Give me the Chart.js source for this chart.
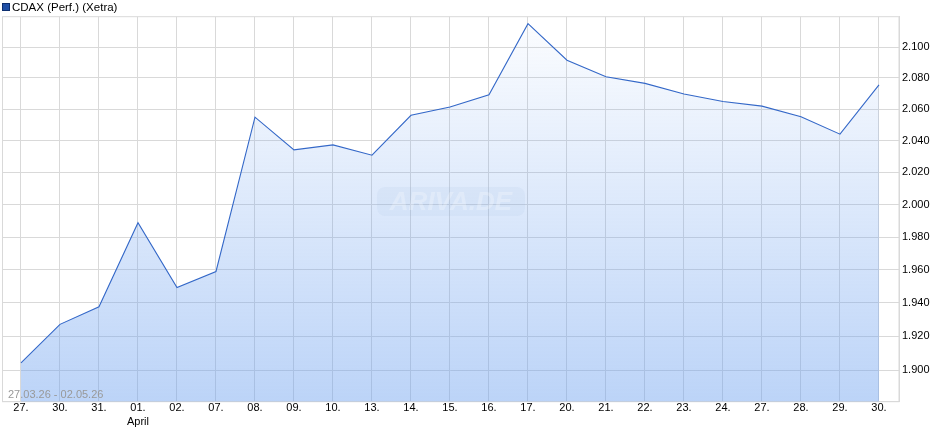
<!DOCTYPE html>
<html lang="de">
<head>
    <meta charset="UTF-8">
    <title>CDAX (Perf.) (Xetra)</title>
    <script src="https://cdn.jsdelivr.net/npm/chart.js"></script>
    <style>
        body {
            margin: 0;
            padding: 0;
            background: #fff;
        }

        .chart-box {
            position: relative;
            width: 940px;
            height: 435px;
        }
    </style>
</head>
<body>

    <div class="chart-box">
        <canvas id="cdaxChart"></canvas>
    </div>

    <script>
        // Data
        const dayLabels = ["27.", "30.", "31.", "01.", "02.", "07.", "08.", "09.", "10.", "13.", "14.", "15.",
            "16.", "17.", "20.", "21.", "22.", "23.", "24.", "27.", "28.", "29.", "30."];
        const monthLabels = ["", "", "", "April", "", "", "", "", "", "", "", "",
            "", "", "", "", "", "", "", "", "", "", ""];
        const cdaxValues = [1904.3, 1927.2, 1937.7, 1988.8, 1949.3, 1959.0, 2054.9, 2034.2, 2037.3, 2030.8, 2056.1, 2061.3,
            2069.2, 2115.2, 2091.4, 2080.8, 2076.5, 2069.7, 2064.9, 2061.9, 2055.2, 2044.1, 2075.5];
        const yTickValues = [1900, 1920, 1940, 1960, 1980, 2000, 2020, 2040, 2060, 2080, 2100];
        const seriesName = "CDAX (Perf.) (Xetra)";
        const rangeText = "27.03.26 - 02.05.26";

        const gridColor = "#d9d9d9";
        const fontFamily = "'Liberation Sans', Arial, sans-serif";

        // 2100 -> "2.100"
        function formatPoints(v) {
            const n = Math.round(v);
            const thousands = Math.floor(n / 1000);
            const rest = String(n % 1000).padStart(3, "0");
            return thousands + "." + rest;
        }

        // Fill gradient over the plot area
        function areaFill(context) {
            const { ctx, chartArea } = context.chart;
            if (!chartArea) return "rgba(106,159,239,0.2)";
            const g = ctx.createLinearGradient(0, chartArea.top, 0, chartArea.bottom);
            g.addColorStop(0, "rgba(106,159,239,0.02)");
            g.addColorStop(1, "rgba(106,159,239,0.45)");
            return g;
        }

        // Frame, legend, date range and watermark
        const decorations = {
            id: "decorations",
            beforeDatasetsDraw(chart) {
                const { ctx, chartArea } = chart;
                ctx.save();
                ctx.strokeStyle = gridColor;
                ctx.lineWidth = 1;
                ctx.strokeRect(chartArea.left, chartArea.top, chartArea.right - chartArea.left, chartArea.bottom - chartArea.top);
                ctx.restore();
            },
            afterDatasetsDraw(chart) {
                const { ctx, chartArea } = chart;
                ctx.save();

                // watermark
                const wx = 377, wy = 187, ww = 148, wh = 29;
                ctx.fillStyle = "rgba(150,175,215,0.10)";
                ctx.beginPath();
                ctx.roundRect(wx, wy, ww, wh, 8);
                ctx.fill();
                ctx.fillStyle = "rgba(255,255,255,0.25)";
                ctx.font = "italic bold 26px " + fontFamily;
                ctx.textAlign = "center";
                ctx.textBaseline = "middle";
                ctx.fillText("ARIVA.DE", wx + ww / 2, wy + wh / 2 + 1);

                // legend
                ctx.fillStyle = "#1f4fa6";
                ctx.fillRect(2.5, 3.5, 7, 7);
                ctx.strokeStyle = "#0d2f70";
                ctx.strokeRect(2.5, 3.5, 7, 7);
                ctx.fillStyle = "#000";
                ctx.font = "11.5px " + fontFamily;
                ctx.textAlign = "left";
                ctx.fillText(seriesName, 12, 8);

                // date range
                ctx.fillStyle = "#999";
                ctx.font = "11px " + fontFamily;
                ctx.fillText(rangeText, chartArea.left + 5.5, 395);

                ctx.restore();
            }
        };

        const ctx = document.getElementById("cdaxChart").getContext("2d");
        const cdaxChart = new Chart(ctx, {
            type: "line",
            data: {
                datasets: [{
                    label: seriesName,
                    data: cdaxValues.map((v, i) => ({ x: i, y: v })),
                    borderColor: "#3468c8",
                    borderWidth: 1.1,
                    backgroundColor: areaFill,
                    fill: "start",
                    pointRadius: 0,
                    tension: 0
                }]
            },
            options: {
                responsive: true,
                maintainAspectRatio: false,
                animation: false,
                layout: { padding: { left: 2.5, top: 16.7, right: 0, bottom: 0 } },
                plugins: {
                    legend: { display: false },
                    tooltip: { enabled: false }
                },
                scales: {
                    x: {
                        type: "linear",
                        min: -0.474,
                        max: 22.513,
                        afterBuildTicks: scale => {
                            scale.ticks = dayLabels.map((_, i) => ({ value: i }));
                        },
                        afterFit: scale => { scale.height = 33.3; },
                        grid: { color: gridColor, drawTicks: false },
                        border: { color: gridColor },
                        ticks: {
                            padding: 0,
                            maxRotation: 0,
                            autoSkip: false,
                            color: "#000",
                            font: { family: fontFamily, size: 11 },
                            callback: value => monthLabels[value] ? [dayLabels[value], monthLabels[value]] : dayLabels[value]
                        }
                    },
                    y: {
                        type: "logarithmic",
                        position: "right",
                        min: 1881.6,
                        max: 2119.8,
                        afterBuildTicks: scale => {
                            scale.ticks = yTickValues.map(v => ({ value: v }));
                        },
                        afterFit: scale => { scale.width = 41; },
                        grid: { color: gridColor, drawTicks: false },
                        border: { color: gridColor },
                        ticks: {
                            padding: 3,
                            color: "#000",
                            font: { family: fontFamily, size: 11 },
                            callback: value => formatPoints(value)
                        }
                    }
                }
            },
            plugins: [decorations]
        });
    </script>
</body>
</html>
